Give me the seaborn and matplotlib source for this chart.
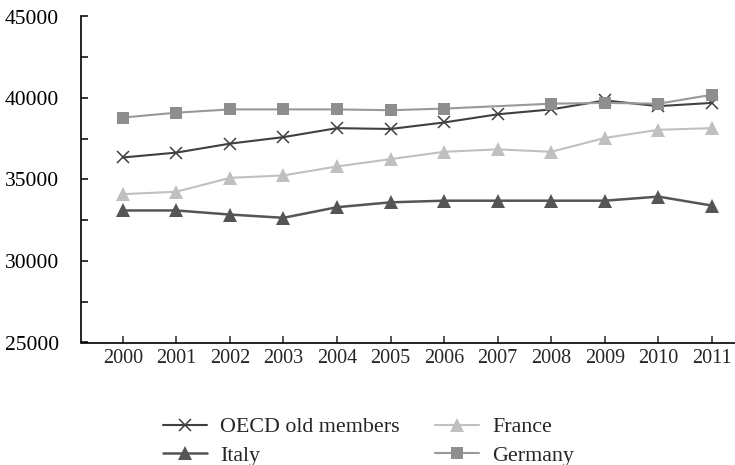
import matplotlib
matplotlib.use('Agg')
import matplotlib.pyplot as plt
from matplotlib.ticker import MultipleLocator
import seaborn as sns

years = [2000, 2001, 2002, 2003, 2004, 2005, 2006, 2007, 2008, 2009, 2010, 2011]
oecd = [36350, 36650, 37200, 37600, 38150, 38100, 38500, 39000, 39300, 39850, 39500, 39700]
italy = [33100, 33100, 32850, 32650, 33300, 33600, 33700, 33700, 33700, 33700, 33950, 33400]
france = [34100, 34250, 35100, 35250, 35800, 36250, 36700, 36850, 36700, 37550, 38050, 38150]
germany = [38800, 39100, 39300, 39300, 39300, 39250, 39350, 39500, 39650, 39700, 39650, 40200]

sns.set_style('ticks')
plt.rcParams['font.family'] = ['Liberation Serif', 'DejaVu Serif']

fig = plt.figure(figsize=(7.35, 4.65), dpi=100)
ax = fig.add_axes([81/735, 1 - 342.5/465, 1 - 81/735, (342.5 - 16.5)/465])

# series in legend order (column-wise: OECD, Italy | France, Germany)
sns.lineplot(x=years, y=oecd, ax=ax, color='#404040', lw=1.5, marker='x',
             markersize=8.5, markeredgewidth=1.1, markeredgecolor='#404040',
             label='OECD old members')
sns.lineplot(x=years, y=italy, ax=ax, color='#555555', lw=1.8, marker='^',
             markersize=10, markeredgewidth=0, label='Italy')
sns.lineplot(x=years, y=france, ax=ax, color='#c0c0c0', lw=1.5, marker='^',
             markersize=10, markeredgewidth=0, label='France')
# 2007 marker is absent in the original
sns.lineplot(x=years, y=germany, ax=ax, color='#999999', lw=1.5, marker='s',
             markersize=8, markeredgewidth=0, markerfacecolor='#8e8e8e',
             markevery=[0, 1, 2, 3, 4, 5, 6, 8, 9, 10, 11], label='Germany')

ax.set_xlim(2000 - 0.78, 2011 + 0.43)
ax.set_ylim(25000, 45000)
ax.set_xticks(years)
ax.set_xticklabels([str(y) for y in years], fontsize=14.5)
ax.yaxis.set_major_locator(MultipleLocator(5000))
ax.yaxis.set_minor_locator(MultipleLocator(2500))
ax.tick_params(axis='y', which='both', direction='in', length=5, width=1.1,
               labelsize=15.5, colors='black', pad=16)
ax.tick_params(axis='x', direction='in', length=5, width=1.1, pad=5)
ax.set_xlabel('')
ax.set_ylabel('')
sns.despine(ax=ax)
for s in ['left', 'bottom']:
    ax.spines[s].set_linewidth(1.2)
    ax.spines[s].set_color('black')

ax.legend(loc='upper left', bbox_to_anchor=(163/735, 1 - 417/465),
          bbox_transform=fig.transFigure, ncol=2, frameon=False,
          fontsize=15.8, handlelength=2.0, handletextpad=0.6,
          columnspacing=1.6, labelspacing=0.36, borderpad=0, borderaxespad=0)

plt.savefig('out.png', dpi=100)
